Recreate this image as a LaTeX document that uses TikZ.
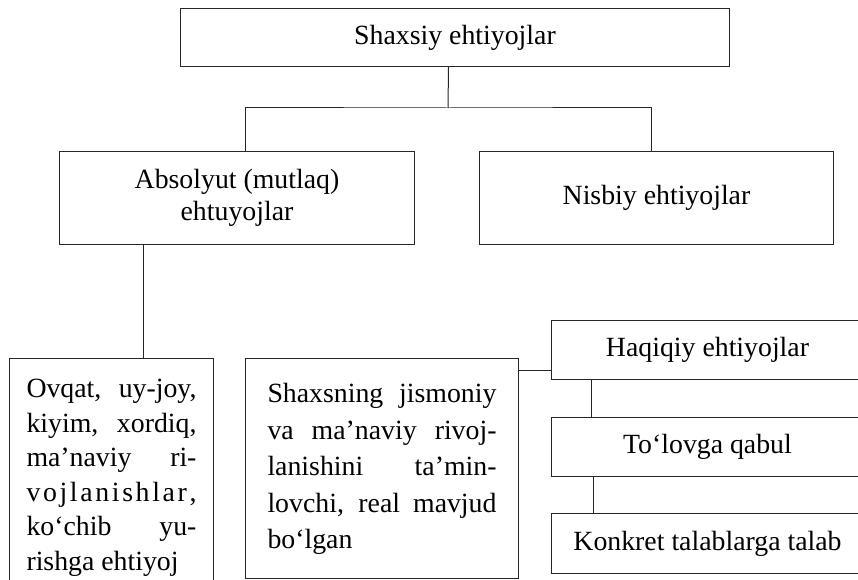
\documentclass[tikz,border=0pt]{standalone}
\usepackage{fontspec}
\setmainfont{Liberation Serif}
\newcommand\bigtext{\fontsize{27.8}{33}\selectfont}
\begin{document}
\begin{tikzpicture}[x=1pt,y=-1pt,
  box/.style={draw=black!85, line width=1pt, inner sep=0pt, anchor=north west, font=\bigtext},
  link/.style={draw=black!85, line width=1pt}]
\useasboundingbox (0,0) rectangle (858,580);
\fill[white] (0,0) rectangle (858,580);
\clip (0,0) rectangle (858,580);
% top level
\node[box, minimum width=549pt, minimum height=58pt] (top) at (180,8) {Shaxsiy ehtiyojlar};
% second level
\node[box, minimum width=355pt, minimum height=93pt, align=center,
      font=\fontsize{27.8}{31.5}\selectfont] (abs) at (59,151) {Absolyut (mutlaq)\\ehtuyojlar};
\node[box, minimum width=354pt, minimum height=93pt] (nis) at (479,151) {Nisbiy ehtiyojlar};
% third level, left
\node[box, minimum width=204pt] (ovq) at (9,358) {\parbox[t][240pt][t]{170pt}{\fontsize{27.8}{34.5}\selectfont
\rule{0pt}{39pt}\makebox[\linewidth][s]{Ovqat, uy-joy,}\\
\makebox[\linewidth][s]{kiyim, xordiq,}\\
\makebox[\linewidth][s]{ma’naviy ri-}\\
\makebox[\linewidth][s]{v\hfil o\hfil j\hfil l\hfil a\hfil n\hfil i\hfil s\hfil h\hfil l\hfil a\hfil r\hfil ,}\\
\makebox[\linewidth][s]{ko‘chib yu-}\\
rishga ehtiyoj}};
\node[box, minimum width=273pt] (shx) at (245,358) {\parbox[t][220pt][t]{229pt}{\fontsize{27.8}{36.5}\selectfont
\rule{0pt}{44pt}\makebox[\linewidth][s]{Shaxsning jismoniy}\\
\makebox[\linewidth][s]{va ma’naviy rivoj-}\\
\makebox[\linewidth][s]{lanishini ta’min-}\\
\makebox[\linewidth][s]{lovchi, real mavjud}\\
bo‘lgan}};
% right column
\node[box, minimum width=312pt, minimum height=59pt] (haq) at (551,320) {Haqiqiy ehtiyojlar};
\node[box, minimum width=312pt, minimum height=59pt] (tol) at (551,417) {To‘lovga qabul};
\node[box, minimum width=312pt, minimum height=60pt] (kon) at (551,513) {Konkret talablarga talab};
% connectors
\coordinate (j) at (448,108);
\draw[link] ([xshift=-6.5pt]top.south) -- (j);
\draw[link] ([xshift=8.5pt]abs.north) |- (j) -| ([xshift=-5pt]nis.north);
\draw[link] ([xshift=-93.5pt]abs.south) -- ([xshift=-93.5pt]abs.south |- ovq.north);
\coordinate (h) at ([yshift=-20.5pt]haq.west);
\draw[link] (shx.east |- h) -- (h);
\draw[link] ([xshift=40pt]haq.south west) -- ([xshift=40pt]tol.north west);
\draw[link] ([xshift=42pt]tol.south west) -- ([xshift=42pt]kon.north west);
\end{tikzpicture}
\end{document}
